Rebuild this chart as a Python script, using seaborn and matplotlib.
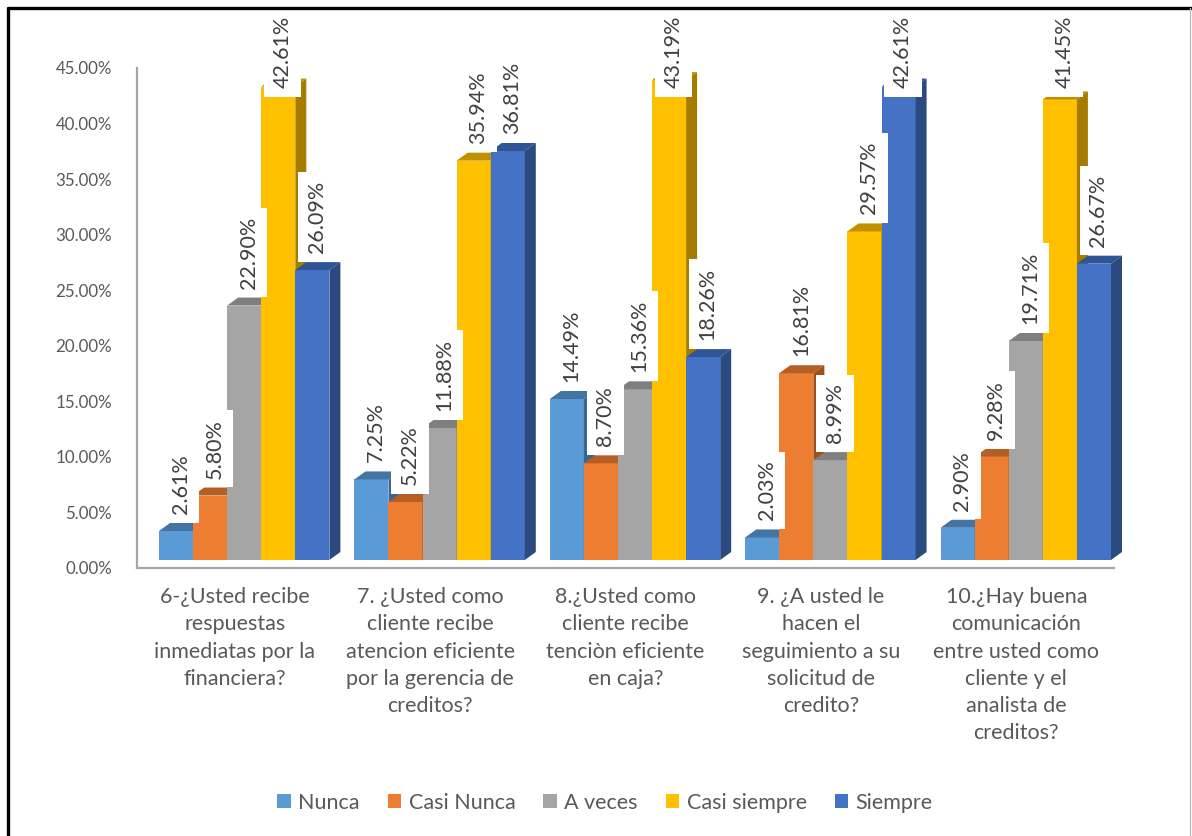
import matplotlib
matplotlib.use("Agg")
import matplotlib.pyplot as plt
from matplotlib.transforms import ScaledTranslation
from matplotlib.patches import Polygon, Patch
from matplotlib.lines import Line2D
from matplotlib.ticker import FuncFormatter
import numpy as np
import pandas as pd
import seaborn as sns

# ---- data -------------------------------------------------------------
preguntas = [
    "6-¿Usted recibe\nrespuestas\ninmediatas por la\nfinanciera?",
    "7. ¿Usted como\ncliente recibe\natencion eficiente\npor la gerencia de\ncreditos?",
    "8.¿Usted como\ncliente recibe\ntenciòn eficiente\nen caja?",
    "9. ¿A usted le\nhacen el\nseguimiento a su\nsolicitud de\ncredito?",
    "10.¿Hay buena\ncomunicación\nentre usted como\ncliente y el\nanalista de\ncreditos?",
]
respuestas = ["Nunca", "Casi Nunca", "A veces", "Casi siempre", "Siempre"]

nunca = [2.61, 7.25, 14.49, 2.03, 2.90]
casi_nunca = [5.80, 5.22, 8.70, 16.81, 9.28]
a_veces = [22.90, 11.88, 15.36, 8.99, 19.71]
casi_siempre = [42.61, 35.94, 43.19, 29.57, 41.45]
siempre = [26.09, 36.81, 18.26, 42.61, 26.67]

y_ticks = [0, 5, 10, 15, 20, 25, 30, 35, 40, 45]

colores = ["#5B9BD5", "#ED7D31", "#A5A5A5", "#FFC000", "#4472C4"]
colores_top = ["#4374A3", "#B55F24", "#7F7F7F", "#BF9000", "#2F5597"]
colores_lado = ["#3A6590", "#A04F1A", "#6E6E6E", "#A67C00", "#2B4A80"]

series = [nunca, casi_nunca, a_veces, casi_siempre, siempre]
df = pd.DataFrame({
    "pregunta": preguntas * len(respuestas),
    "respuesta": [r for r in respuestas for _ in preguntas],
    "valor": [v for s in series for v in s],
})

# ---- figure -----------------------------------------------------------
W, H, DPI = 1192, 836, 100
sns.set_theme(style="white")
plt.rcParams["font.family"] = ["Lato", "DejaVu Sans"]

fig = plt.figure(figsize=(W / DPI, H / DPI), dpi=DPI)
fig.patch.set_facecolor("white")
ax = fig.add_axes([137 / W, 1 - 568 / H, (1114 - 137) / W, 500 / H])

sns.barplot(data=df, x="pregunta", y="valor", hue="respuesta",
            hue_order=respuestas, order=preguntas, palette=colores,
            saturation=1, width=0.872, legend=False, ax=ax,
            linewidth=0, edgecolor="none", errorbar=None)

ax.set_xlim(-0.5, len(preguntas) - 0.5)
ax.set_ylim(0, 45)
ax.set_yticks(y_ticks)
ax.yaxis.set_major_formatter(FuncFormatter(lambda v, p: f"{v:.2f}%"))
ax.set_xlabel("")
ax.set_ylabel("")
ax.set_facecolor("none")

for s in ("top", "right"):
    ax.spines[s].set_visible(False)
for s in ("left", "bottom"):
    ax.spines[s].set_color("#A6A6A6")
    ax.spines[s].set_linewidth(1.6)

ax.tick_params(axis="y", length=0, pad=18, labelsize=12.2, labelcolor="#595959")
ax.tick_params(axis="x", length=0, pad=14, labelsize=15.5, labelcolor="#595959")
for t in ax.get_xticklabels():
    t.set_linespacing(1.44)
    t.set_horizontalalignment("center")

# ---- pseudo 3D bars ---------------------------------------------------
px_x = ax.transData.transform((1, 0))[0] - ax.transData.transform((0, 0))[0]
px_y = ax.transData.transform((0, 1))[1] - ax.transData.transform((0, 0))[1]
shift = ScaledTranslation(9.5 / DPI, 8 / DPI, fig.dpi_scale_trans)
bar_trans = ax.transData + shift
depth_x = 11 / px_x
depth_y = 8 / px_y

for h, cont in enumerate(ax.containers):
    for bar in cont:
        x0 = bar.get_x()
        x1 = x0 + bar.get_width()
        top = bar.get_height()
        z = 2 + h * 0.1
        bar.set_transform(bar_trans)
        bar.set_zorder(z)
        bar.set_clip_on(False)
        top_face = Polygon([(x0, top), (x1, top), (x1 + depth_x, top + depth_y),
                            (x0 + depth_x, top + depth_y)], closed=True,
                           facecolor=colores_top[h], edgecolor="none",
                           transform=bar_trans, zorder=z, clip_on=False)
        side_face = Polygon([(x1, 0), (x1, top), (x1 + depth_x, top + depth_y),
                             (x1 + depth_x, depth_y)], closed=True,
                            facecolor=colores_lado[h], edgecolor="none",
                            transform=bar_trans, zorder=z, clip_on=False)
        ax.add_patch(top_face)
        ax.add_patch(side_face)

# ---- value labels -----------------------------------------------------
label_top_limit = H - 88  # highest start point allowed for a label, in pixels
for h, cont in enumerate(ax.containers):
    for bar, v in zip(cont, series[h]):
        xc = bar.get_x() + bar.get_width() / 2
        y_disp = ax.transData.transform((xc, v))[1]
        dy = min(25, label_top_limit - y_disp)
        ax.annotate(f"{v:.2f}%", xy=(xc, v), xytext=(14, dy),
                    textcoords="offset pixels", rotation=90,
                    ha="center", va="bottom", fontsize=15.5, color="#404040",
                    zorder=10, annotation_clip=False,
                    bbox=dict(boxstyle="square,pad=0.4", fc="white", ec="none"))

# ---- legend -----------------------------------------------------------
handles = [Patch(facecolor=c, edgecolor="none", label=r) for c, r in zip(colores, respuestas)]
fig.legend(handles=handles, loc="center", bbox_to_anchor=(605 / W, 1 - 803 / H),
           ncol=5, frameon=False, fontsize=15.5, handlelength=0.62,
           handleheight=0.62, handletextpad=0.35, columnspacing=1.3,
           labelcolor="#595959")

# ---- chart border -----------------------------------------------------
fig.add_artist(Line2D([8 / W, 8 / W], [0, 1 - 8 / H], transform=fig.transFigure,
                      color="black", lw=2.4))
fig.add_artist(Line2D([8 / W, 1], [1 - 8 / H, 1 - 8 / H], transform=fig.transFigure,
                      color="black", lw=2.4))
fig.add_artist(Line2D([1190 / W, 1190 / W], [0, 1 - 8 / H], transform=fig.transFigure,
                      color="#BFBFBF", lw=1))

fig.savefig("out.png", dpi=DPI, facecolor="white")
